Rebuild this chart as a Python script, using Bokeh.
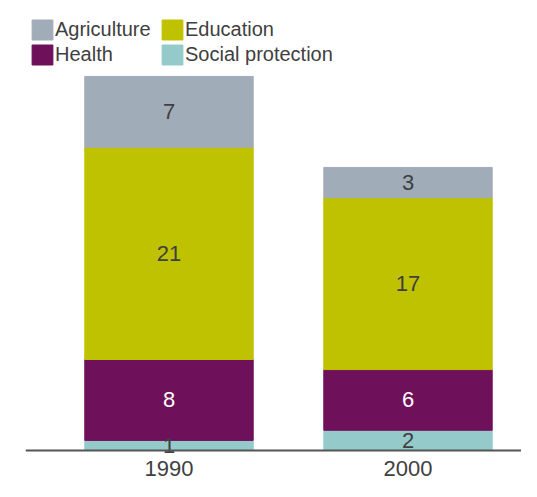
from bokeh.plotting import figure
from bokeh.models import Range1d, ColumnDataSource, Span, Legend, LegendItem
from bokeh.core.properties import value
from bokeh.embed import file_html
from bokeh.resources import INLINE

# ---- data ----
years = ["1990", "2000"]
series = ["Social protection", "Health", "Education", "Agriculture"]
social_protection = [1, 2]
health = [8, 6]
education = [21, 17]
agriculture = [7, 3]

colors = ["#94CACA", "#6F105B", "#BFC200", "#A1ACB9"]
label_colors = ["#404040", "#FFFFFF", "#404040", "#404040"]

FONT = "Liberation Sans"

xs = list(range(len(years)))
data = {"x": xs, "Social protection": social_protection, "Health": health,
        "Education": education, "Agriculture": agriculture}
src = ColumnDataSource(data)

p = figure(width=521, height=481,
           x_range=Range1d(-0.6004, 1.4749), y_range=Range1d(-3.066, 44.51),
           x_axis_type=None, y_axis_type=None,
           output_backend="svg", toolbar_location=None,
           min_border_left=25, min_border_right=0, min_border_top=0, min_border_bottom=0)
p.outline_line_color = None
p.grid.visible = False

renderers = p.vbar_stack(series, x="x", width=0.7046, color=colors, source=src)

# segment labels
lx, ly, lt, lc = [], [], [], []
base = [0] * len(years)
for s, c in zip(series, label_colors):
    vals = data[s]
    for i, v in enumerate(vals):
        lx.append(xs[i])
        ly.append(base[i] + v / 2)
        lt.append(str(v))
        lc.append(c)
        base[i] += v
lsrc = ColumnDataSource(dict(x=lx, y=ly, text=lt, color=lc))
p.text(x="x", y="y", text="text", text_color="color", source=lsrc,
       text_align="center", text_baseline="middle",
       text_font=value(FONT), text_font_size="22px")

# baseline
p.add_layout(Span(location=0, dimension="width", line_color="#555555", line_width=2))

# year labels
ysrc = ColumnDataSource(dict(x=xs, y=[0] * len(years), text=years))
p.text(x="x", y="y", text="text", source=ysrc, y_offset=18,
       text_align="center", text_baseline="middle", text_color="#404040",
       text_font=value(FONT), text_font_size="22px")

# legend
rmap = dict(zip(series, renderers))
order = ["Agriculture", "Health", "Education", "Social protection"]
items = [LegendItem(label=n, renderers=[rmap[n]]) for n in order]
legend = Legend(items=items, location=(4, 414), orientation="vertical", ncols=2,
                glyph_width=26, glyph_height=25, label_standoff=0, spacing=-2,
                padding=0, margin=0, border_line_color=None, background_fill_alpha=0,
                label_width=104, label_height=25,
                label_text_font=FONT, label_text_font_size="20px", label_text_color="#404040")
p.add_layout(legend)

open("out.html", "w").write(file_html(p, INLINE))
